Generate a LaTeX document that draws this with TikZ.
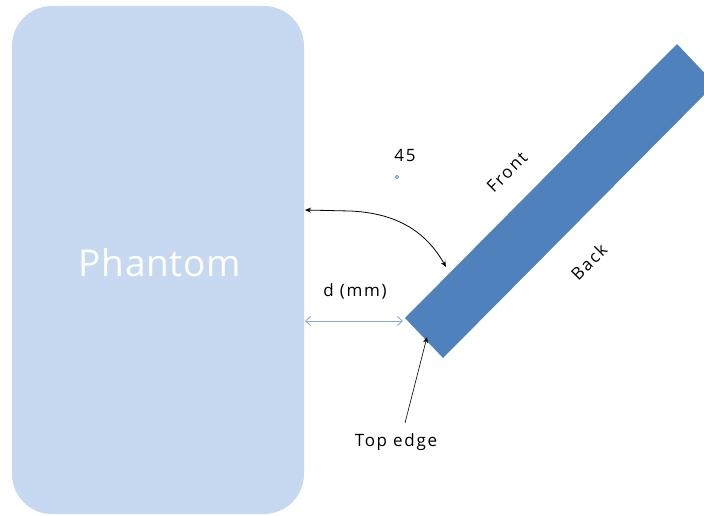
\documentclass[tikz,border=0pt]{standalone}
\usepackage{fontspec}
\setmainfont{Open Sans}
\usetikzlibrary{arrows.meta}
\definecolor{phantomblue}{RGB}{198,217,240}
\definecolor{detblue}{RGB}{79,129,189}
\definecolor{dimblue}{RGB}{140,170,215}
\begin{document}
\begin{tikzpicture}[x=1pt,y=-1pt,
  lbl/.style={font=\fontsize{17}{20}\selectfont\addfontfeatures{LetterSpace=10}, text=black, inner sep=0pt},
  blk/.style={draw=black, line width=0.8pt, -{Stealth[length=6pt,width=5pt]}},
]
\useasboundingbox (0,0) rectangle (704,516);
\node[fill=phantomblue, rounded corners=40pt, minimum width=292pt, minimum height=508pt, inner sep=0pt] (phantom) at (158,260) {};
\node[text=white, font=\fontsize{37}{44}\selectfont\addfontfeatures{LetterSpace=2}, inner sep=0pt] (ph) at (160,263) {Phantom};
% detector plate
\fill[detblue] (405,318) coordinate (tl) -- (677,44) -- (715,84) -- (443,358) -- cycle;
\node[lbl, rotate=45] (front) at (507,172) {Front};
\node[lbl, rotate=45] (back) at (589,262) {Back};
\node[lbl] (ang) at (405,155) {45};
\draw[detblue, line width=0.6pt] (397,177) circle (1.6pt);
\coordinate (pl) at (305,210);
\coordinate (pr) at (446,267);
\draw[blk, {Stealth[length=6pt,width=5pt]}-{Stealth[length=6pt,width=5pt]}] (pl) -- (350,211) .. controls (395,213) and (425,230) .. (pr);
\node[lbl] (d) at (355,291) {d (mm)};
\coordinate (dl) at (305,321);
\coordinate (dr) at (403,321);
\draw[dimblue, line width=0.9pt, {Straight Barb[length=5pt,width=9pt]}-{Straight Barb[length=5pt,width=9pt]}] (dl) -- (dr);
\node[lbl] (top) at (396,442) {Top edge};
\coordinate (te) at (427,337);
\draw[blk, line width=0.6pt] (405,423) -- (te);
\end{tikzpicture}
\end{document}
